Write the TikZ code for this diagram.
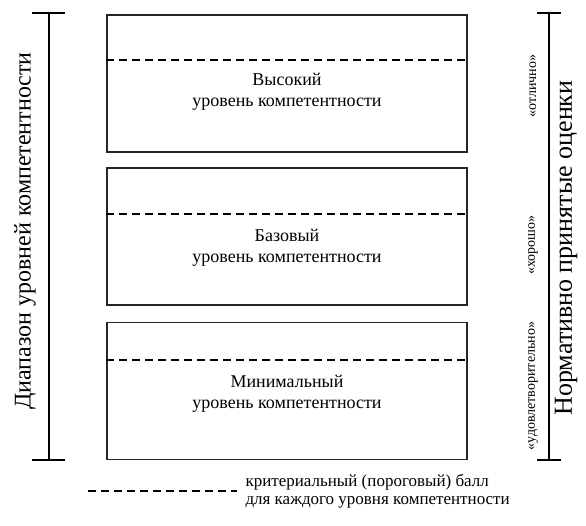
\documentclass[tikz,border=0pt]{standalone}
\usepackage{fontspec}
\setmainfont{Liberation Serif}
\usetikzlibrary{positioning}

\tikzset{
  levelbox/.style={draw=black!85, line width=1.3pt, minimum width=360pt, minimum height=137pt, inner sep=0pt},
  cutline/.style={line width=1.8pt, dash pattern=on 8pt off 5pt},
  scalebar/.style={line width=1.8pt},
  leveltext/.style={align=center, font=\fontsize{18}{21}\selectfont},
  gradetext/.style={rotate=90, font=\fontsize{14}{15}\selectfont},
}

\begin{document}
\begin{tikzpicture}[x=1pt, y=-1pt]
\useasboundingbox (0,0) rectangle (586,525);
% three levels, top to bottom
\node[levelbox] (high) at (287,83.5) {};
\node[levelbox] (base) at (287,236.5) {};
\node[levelbox] (min)  at (287,391) {};
\draw[cutline] (high.west |- 0,60) -- (high.east |- 0,60);
\draw[cutline] (base.west |- 0,214) -- (base.east |- 0,214);
\draw[cutline] (min.west |- 0,360) -- (min.east |- 0,360);
\node[leveltext] (hightext) at (287,92) {Высокий\\уровень компетентности};
\node[leveltext] (basetext) at (287,248) {Базовый\\уровень компетентности};
\node[leveltext] (mintext)  at (287,394) {Минимальный\\уровень компетентности};

% left scale
\coordinate (ltop) at (49,13);
\coordinate (lbot) at (49,460);
\draw[scalebar] (ltop) -- (lbot);
\draw[scalebar] ([xshift=-17pt]ltop) -- ([xshift=16pt]ltop);
\draw[scalebar] ([xshift=-17pt]lbot) -- ([xshift=16pt]lbot);
\node[rotate=90, font=\fontsize{24}{26}\selectfont] (range) at (25,231) {Диапазон уровней компетентности};

% right scale
\coordinate (rtop) at (549,13);
\coordinate (rbot) at (549,460);
\draw[scalebar] (rtop) -- (rbot);
\draw[scalebar] ([xshift=-12pt]rtop) -- ([xshift=12pt]rtop);
\draw[scalebar] ([xshift=-12pt]rbot) -- ([xshift=12pt]rbot);
\node[rotate=90, font=\fontsize{26}{28}\selectfont] (norm) at (566,248) {Нормативно принятые оценки};
\node[gradetext] (excellent) at (533,86) {«отлично»};
\node[gradetext] (good) at (533,245) {«хорошо»};
\node[gradetext] (fair) at (533,386) {«удовлетворительно»};

% legend
\coordinate (dstart) at (88,491);
\coordinate (dend) at (237,491);
\draw[cutline] (dstart) -- (dend);
\node[align=left, anchor=west, font=\fontsize{17}{18}\selectfont] (legend) at (242,491) {критериальный (пороговый) балл\\для каждого уровня компетентности};
\end{tikzpicture}
\end{document}
